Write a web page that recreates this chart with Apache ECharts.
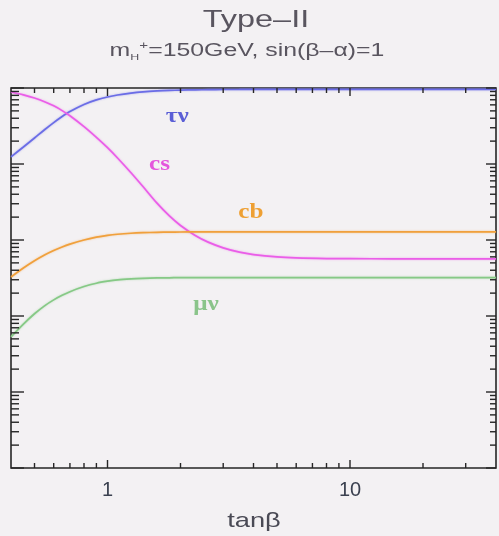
<!DOCTYPE html>
<html>
<head>
<meta charset="utf-8">
<script src="https://cdn.jsdelivr.net/npm/echarts@6/dist/echarts.min.js"></script>
<style>
  html, body { margin: 0; padding: 0; background: #f3f1f3; }
  #chart { width: 499px; height: 536px; }
</style>
</head>
<body>
<div id="chart"></div>
<script>
// Charged Higgs branching ratios versus tan(beta), Type-II 2HDM
const tanBeta = [0.4, 0.45, 0.5, 0.55, 0.6, 0.65, 0.7, 0.8, 0.9, 1, 1.1, 1.25, 1.4, 1.6, 1.8, 2, 2.3, 2.6, 3, 3.5, 4, 5, 6, 8, 10, 15, 20, 30, 40];
const brTauNu = [0.124, 0.1675, 0.220, 0.2825, 0.351, 0.422, 0.491, 0.608, 0.697, 0.762, 0.809, 0.857, 0.889, 0.914, 0.929, 0.938, 0.946, 0.951, 0.955, 0.957, 0.959, 0.961, 0.961, 0.961, 0.961, 0.961, 0.961, 0.961, 0.961];
const brCs    = [0.885, 0.811, 0.738, 0.661, 0.582, 0.504, 0.431, 0.310, 0.224, 0.164, 0.120, 0.0767, 0.0505, 0.0305, 0.0207, 0.0155, 0.01148, 0.00938, 0.00789, 0.00692, 0.00643, 0.00598, 0.00581, 0.00570, 0.00568, 0.00566, 0.00566, 0.00566, 0.00566];
const brCb    = [0.00326, 0.00428, 0.00533, 0.00634, 0.00726, 0.00809, 0.00881, 0.0100, 0.01089, 0.01151, 0.01191, 0.01227, 0.01247, 0.01262, 0.01271, 0.01274, 0.0128, 0.0128, 0.0128, 0.0128, 0.0128, 0.0128, 0.0128, 0.0128, 0.0128, 0.0128, 0.0128, 0.0128, 0.0128];
const brMuNu  = [0.00053, 0.000782, 0.00107, 0.00136, 0.00163, 0.00187, 0.00209, 0.00244, 0.00270, 0.00287, 0.00299, 0.00308, 0.00313, 0.00317, 0.00318, 0.0032, 0.0032, 0.0032, 0.0032, 0.0032, 0.0032, 0.0032, 0.0032, 0.0032, 0.0032, 0.0032, 0.0032, 0.0032, 0.0032];

// Axis ticks
const xTickLabels = ['1', '10'];
const xMajorTicks = [1, 10];
const xMinorTicks = [0.5, 0.6, 0.7, 0.8, 0.9, 2, 3, 4, 5, 6, 7, 8, 9, 20, 30];
const yDecades = [1e-5, 1e-4, 1e-3, 1e-2, 1e-1, 1];
const yMantissas = [2, 3, 4, 5, 6, 7, 8, 9];

const seriesDefs = [
  { name: 'τν', values: brTauNu, color: '#6b6de6', text: '#5b5fd6' },
  { name: 'cs', values: brCs,    color: '#ea5ee8', text: '#e456dc' },
  { name: 'cb', values: brCb,    color: '#f0a03c', text: '#eea033' },
  { name: 'μν', values: brMuNu,  color: '#86c986', text: '#8ac48a' }
];

// Where the curve names are written (data coordinates: tanβ, BR)
const curveLabelAnchors = {
  'τν': [1.94, 0.415],
  'cs': [1.64, 0.097],
  'cb': [3.9, 0.0233],
  'μν': [2.55, 0.0014]
};

const yMinorTicks = [];
yDecades.slice(0, -1).forEach(d => yMantissas.forEach(m => yMinorTicks.push(+(m * d).toPrecision(3))));

const chart = echarts.init(document.getElementById('chart'), null, { renderer: 'canvas' });

const tickColor = '#262626';

function xTickItem(params, api) {
  const cs = params.coordSys;
  const x = api.coord([api.value(0), 1])[0];
  const len = api.value(2) ? 8 : 5;
  const st = { stroke: tickColor, lineWidth: 1.4 };
  return {
    type: 'group',
    children: [
      { type: 'line', shape: { x1: x, y1: cs.y + cs.height, x2: x, y2: cs.y + cs.height - len }, style: st },
      { type: 'line', shape: { x1: x, y1: cs.y, x2: x, y2: cs.y + len }, style: st }
    ]
  };
}

function yTickItem(params, api) {
  const cs = params.coordSys;
  const y = api.coord([1, api.value(1)])[1];
  const major = api.value(2);
  const st = { stroke: tickColor, lineWidth: 1.4 };
  return {
    type: 'group',
    children: [
      { type: 'line', shape: { x1: cs.x, y1: y, x2: cs.x + (major ? 13 : 8), y2: y }, style: st },
      { type: 'line', shape: { x1: cs.x + cs.width, y1: y, x2: cs.x + cs.width - (major ? 10 : 6), y2: y }, style: st }
    ]
  };
}

const xTickData = xMajorTicks.map(v => [v, 1, 1]).concat(xMinorTicks.map(v => [v, 1, 0]));
const yTickData = yDecades.map(v => [1, v, 1]).concat(yMinorTicks.map(v => [1, v, 0]));

const option = {
  backgroundColor: '#f3f1f3',
  animation: false,
  grid: {
    left: 11, right: 1, top: 88, bottom: 68,
    show: true, borderColor: '#262626', borderWidth: 1.6, backgroundColor: 'transparent'
  },
  xAxis: {
    type: 'log', logBase: 10, min: 0.4, max: 40,
    axisLine: { show: false }, axisTick: { show: false }, splitLine: { show: false },
    axisLabel: {
      margin: 12, fontSize: 20, color: '#3b4150', fontFamily: 'Liberation Sans',
      formatter: v => {
        const i = xMajorTicks.findIndex(t => Math.abs(t - v) < 1e-9);
        return i >= 0 ? xTickLabels[i] : '';
      }
    }
  },
  yAxis: {
    type: 'log', logBase: 10, min: 1e-5, max: 1,
    axisLine: { show: false }, axisTick: { show: false }, splitLine: { show: false },
    axisLabel: { show: false }
  },
  series: seriesDefs.map(s => ({
    type: 'line',
    name: s.name,
    data: tanBeta.map((t, i) => [t, s.values[i]]),
    smooth: 0.3,
    showSymbol: false,
    z: 3,
    lineStyle: { color: s.color, width: 1.7, shadowBlur: 2, shadowColor: s.color + '88' }
  })).concat([
    { type: 'custom', data: xTickData, encode: { x: 0, y: 1 }, renderItem: xTickItem, z: 4, silent: true },
    { type: 'custom', data: yTickData, encode: { x: 0, y: 1 }, renderItem: yTickItem, z: 4, silent: true }
  ])
};

chart.setOption(option);

// Text annotations: title, subtitle, axis name and curve names
const graphics = [
  {
    type: 'text', x: 256, y: 20, scaleX: 1.35,
    style: { text: 'Type–II', fontFamily: 'Liberation Sans', fontSize: 24, fill: '#59555f', align: 'center', verticalAlign: 'middle' }
  },
  {
    type: 'text', x: 247, y: 51, scaleX: 1.38,
    style: {
      text: '{n|m}{sub|H}{sup|+}{n|=150GeV, sin(β–α)=1}',
      align: 'center', verticalAlign: 'middle',
      rich: {
        n: { fontFamily: 'Liberation Sans', fontSize: 18, fill: '#59555f', lineHeight: 22 },
        sub: { fontFamily: 'Liberation Sans', fontSize: 9, fill: '#59555f', verticalAlign: 'bottom', lineHeight: 22, padding: [9, 0, 0, 0] },
        sup: { fontFamily: 'Liberation Sans', fontSize: 11, fill: '#59555f', verticalAlign: 'top', lineHeight: 22 }
      }
    }
  },
  {
    type: 'text', x: 254, y: 521, scaleX: 1.3,
    style: { text: 'tanβ', fontFamily: 'Liberation Sans', fontSize: 21, fill: '#4a4a55', align: 'center', verticalAlign: 'middle' }
  }
];
seriesDefs.forEach(s => {
  const p = chart.convertToPixel({ gridIndex: 0 }, curveLabelAnchors[s.name]);
  graphics.push({
    type: 'text', x: p[0], y: p[1], scaleX: 1.2,
    style: { text: s.name, fontFamily: 'Liberation Serif', fontWeight: 'bold', fontSize: 21, fill: s.text, align: 'center', verticalAlign: 'middle' }
  });
});
chart.setOption({ graphic: graphics });
</script>
</body>
</html>
